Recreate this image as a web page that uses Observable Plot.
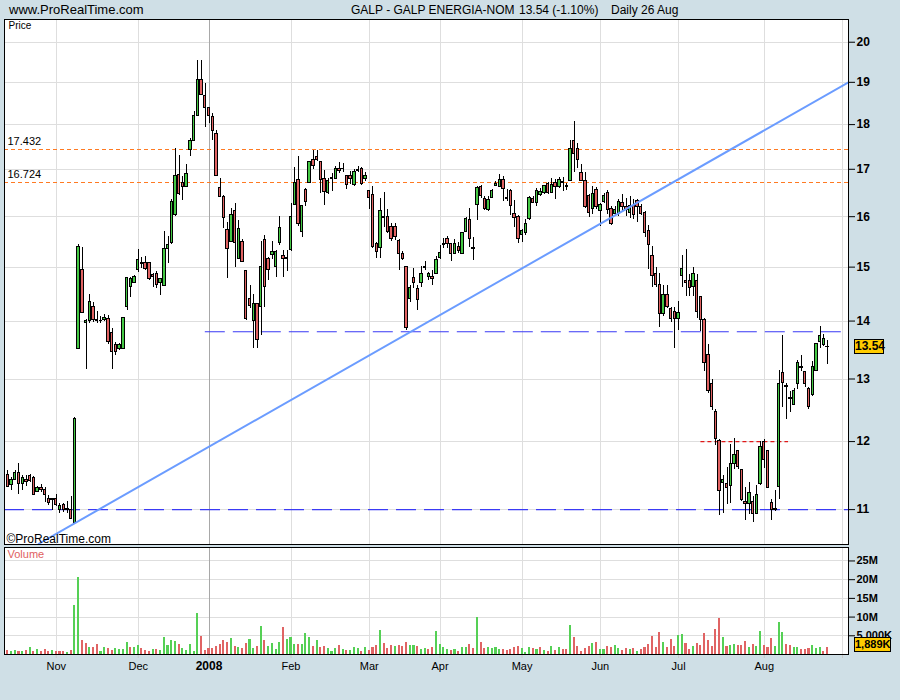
<!DOCTYPE html>
<html><head><meta charset="utf-8">
<script src="https://cdn.jsdelivr.net/npm/d3@7"></script>
<script src="https://cdn.jsdelivr.net/npm/@observablehq/plot@0.6"></script>
<style>
html,body{margin:0;padding:0;background:#cfdfe6;}
#page{position:relative;width:900px;height:700px;background:#cfdfe6;overflow:hidden;font-family:"Liberation Sans",Arial,sans-serif;color:#000;}
.abs{position:absolute;white-space:nowrap;}
.hdr{font-size:12px;line-height:14px;top:3px;}
.badge{position:absolute;background:#ffcc00;border:1px solid #000;font-weight:bold;text-align:center;box-sizing:border-box;line-height:13px;}
</style></head>
<body><div id="page"></div>
<script>
// ---------- DATA ----------
const siteName = "www.ProRealTime.com";
const instrument = "GALP - GALP ENERGIA-NOM";
const lastQuote = "13.54 (-1.10%)";
const periodText = "Daily  26 Aug";
const firstDay = "2007-10-15";
const holidays = ["2007-12-25","2007-12-26","2008-01-01","2008-03-21","2008-03-24","2008-05-01"];
const monthLabels = ["Nov","Dec","2008","Feb","Mar","Apr","May","Jun","Jul","Aug",""];
const priceTicks = [11,12,13,14,15,16,17,18,19,20];
const volTicks = [5e6,10e6,15e6,20e6,25e6];
const volTickLabels = ["5,000K","10M","15M","20M","25M"];
const fibLevels = [17.432, 16.724];
const dashedLevels = [{p:11, i1:-0.885, i2:225.6},{p:13.81, i1:53, i2:224}];
const dottedLevels = [{p:12, i1:186, i2:209.5}];
const trendLine = [{i:8.3, p:10.53},{i:225.6, p:19.0}];

const open = [
11.50,11.35,11.43,11.53,11.36,11.42,11.48,11.46,11.25,11.31,
11.28,11.15,11.15,11.15,11.00,11.07,11.01,11.00,10.82,13.51,
14.95,13.97,14.00,14.26,14.02,14.00,14.02,14.04,13.79,13.58,
13.51,13.51,14.25,14.63,14.70,14.95,15.06,15.07,15.07,14.85,
14.87,14.70,14.65,15.36,15.47,16.03,16.88,16.71,16.62,17.42,
17.63,18.20,19.05,18.66,18.38,18.17,17.79,16.60,16.40,15.72,
15.50,16.12,15.16,15.49,14.93,14.40,14.01,14.31,14.26,15.52,
15.16,15.24,15.01,15.47,15.21,15.15,15.34,16.25,16.76,15.69,
16.56,16.71,17.21,17.28,17.15,16.80,16.50,16.82,16.80,17.01,
17.00,16.86,16.86,16.66,16.97,17.00,16.80,16.53,16.44,15.45,
15.38,16.00,15.99,15.80,15.80,15.51,15.26,15.01,14.40,14.79,
14.59,14.69,14.98,14.81,14.82,14.87,15.17,15.45,15.54,15.45,
15.25,15.40,15.25,15.69,15.94,15.38,16.25,16.62,16.36,16.14,
16.39,16.64,16.62,16.76,16.38,16.53,16.06,16.00,15.62,15.66,
15.95,16.36,16.28,16.46,16.50,16.69,16.50,16.71,16.61,16.70,
16.64,16.75,17.62,17.45,16.93,16.75,16.43,16.16,16.56,16.12,
16.31,16.49,16.16,16.06,16.06,16.29,16.20,16.07,16.21,16.32,
16.19,16.08,15.70,15.21,14.86,14.66,14.13,14.48,14.21,14.17,
14.04,14.83,14.73,14.74,14.62,14.73,14.43,14.02,13.41,12.92,
12.47,12.01,11.38,11.36,11.34,11.66,11.86,11.57,11.11,11.08,
11.11,10.94,11.36,12.00,11.85,11.10,11.01,11.32,13.10,12.89,
12.68,12.58,12.91,13.20,13.11,12.84,12.74,13.14,13.63,13.58,
13.55];
const high = [
11.57,11.46,11.56,11.67,11.49,11.49,11.50,11.47,11.33,11.36,
11.32,11.20,11.15,11.21,11.08,11.08,11.11,11.18,12.37,15.44,
15.39,14.03,14.48,14.34,14.17,14.08,14.12,14.10,13.86,13.63,
13.61,14.07,14.81,14.81,14.84,15.34,15.19,15.20,15.08,14.88,
14.92,14.79,15.69,15.59,16.35,17.45,17.30,16.85,17.11,17.68,
18.31,19.53,19.53,18.97,18.39,18.26,17.87,16.80,16.43,15.89,
16.16,16.28,15.92,15.53,14.94,14.65,14.49,14.31,15.50,15.62,
15.19,15.50,15.32,16.01,15.32,15.32,16.28,17.03,17.27,16.23,
16.58,17.17,17.42,17.42,17.17,16.98,16.80,16.91,17.05,17.14,
17.12,16.87,16.96,17.00,17.05,17.04,16.92,16.55,16.62,15.48,
16.37,16.50,16.14,15.86,15.86,15.54,15.30,15.02,14.66,14.97,
14.66,15.01,15.10,14.90,14.94,15.20,15.43,15.56,15.59,15.46,
15.54,15.48,15.68,15.98,16.16,15.58,16.63,16.66,16.41,16.42,
16.56,16.74,16.89,16.84,16.56,16.56,16.34,16.03,15.74,15.95,
16.42,16.42,16.58,16.58,16.66,16.71,16.80,16.79,16.82,16.82,
16.70,17.63,18.08,17.56,17.10,16.93,16.46,16.62,16.60,16.27,
16.48,16.54,16.21,16.21,16.35,16.45,16.38,16.42,16.35,16.35,
16.25,16.10,15.83,15.40,15.00,14.88,14.65,14.65,14.25,14.24,
14.35,15.23,15.35,14.85,15.00,14.85,14.45,14.04,13.59,13.00,
12.51,12.03,11.49,11.61,11.95,12.05,11.87,11.58,11.32,11.39,
11.18,11.34,12.00,12.03,11.87,11.14,11.27,13.14,13.74,12.92,
12.80,12.84,13.32,13.40,13.13,12.86,13.29,13.61,13.91,13.76,
13.66];
const low = [
11.31,11.27,11.42,11.22,11.27,11.33,11.39,11.21,11.24,11.25,
11.10,11.06,10.99,11.04,10.94,10.96,10.94,10.87,10.81,13.51,
14.14,13.16,13.95,13.97,13.96,13.96,14.00,13.59,13.16,13.40,
13.49,13.51,14.19,14.43,14.68,14.90,14.97,14.93,14.75,14.62,
14.59,14.47,14.63,15.07,15.45,16.00,16.44,16.34,16.62,17.28,
17.61,18.20,18.70,17.93,18.03,17.64,16.84,16.40,15.75,14.78,
15.50,15.00,15.14,15.08,14.01,14.22,13.51,13.51,13.74,14.25,
14.74,15.14,14.81,15.42,14.81,14.91,15.31,16.23,15.81,15.58,
16.20,16.69,17.00,17.16,16.48,16.23,16.47,16.53,16.78,16.90,
16.92,16.57,16.67,16.63,16.93,16.65,16.74,16.14,15.36,15.16,
15.16,15.78,15.66,15.50,15.52,14.94,15.12,13.83,14.33,14.59,
14.19,14.62,14.93,14.74,14.66,14.85,15.14,15.36,15.36,15.10,
15.24,15.27,15.24,15.68,15.39,15.12,15.92,16.37,16.13,16.11,
16.37,16.62,16.60,16.32,16.32,16.03,15.79,15.47,15.49,15.62,
15.93,16.27,16.20,16.42,16.46,16.47,16.48,16.35,16.59,16.53,
16.55,16.75,16.92,17.01,16.73,16.16,15.98,16.04,16.15,15.80,
16.27,16.04,15.82,16.00,16.00,16.11,16.00,15.97,15.94,15.89,
16.03,15.58,14.95,14.61,14.61,13.89,14.08,14.22,13.97,13.51,
13.83,14.62,14.45,14.45,14.45,14.04,13.82,13.13,12.76,12.49,
11.94,10.92,10.95,11.07,11.08,11.58,11.58,11.12,10.85,10.93,
10.82,10.93,11.34,11.60,11.31,10.85,10.98,11.15,12.53,12.34,
12.46,12.56,12.82,13.13,12.86,12.51,12.72,13.13,13.52,13.56,
13.24];
const close = [
11.33,11.43,11.53,11.36,11.46,11.39,11.41,11.21,11.31,11.28,
11.21,11.10,11.14,11.06,11.05,10.99,11.00,10.87,12.35,15.40,
14.14,14.01,14.34,14.02,14.00,14.01,14.05,13.63,13.45,13.45,
13.58,14.05,14.80,14.78,14.82,15.13,15.08,14.96,14.78,14.82,
14.66,14.77,15.36,15.44,16.30,16.86,16.48,16.62,16.89,17.62,
18.19,19.05,18.70,18.39,18.20,17.86,16.86,16.41,15.98,15.36,
16.03,15.47,15.75,15.10,14.04,14.27,14.31,13.66,15.00,14.62,
14.94,15.30,15.30,15.76,15.16,15.17,16.00,16.71,15.85,16.21,
16.30,17.15,17.07,17.21,16.76,16.51,16.75,16.78,17.01,16.96,
17.01,16.67,16.79,16.94,16.98,16.69,16.86,16.38,15.39,15.30,
16.12,15.98,15.69,15.55,15.58,15.26,15.16,13.87,14.61,14.69,
14.39,14.87,15.01,14.87,14.77,15.13,15.27,15.44,15.45,15.25,
15.46,15.31,15.66,15.96,15.54,15.36,16.60,16.43,16.16,16.34,
16.53,16.68,16.76,16.58,16.36,16.21,15.98,15.54,15.70,15.86,
16.39,16.28,16.53,16.51,16.64,16.49,16.67,16.61,16.76,16.72,
16.61,17.44,17.34,17.21,16.75,16.20,16.07,16.48,16.20,16.25,
16.43,16.14,15.85,16.14,16.30,16.19,16.14,16.23,16.03,16.20,
16.06,15.66,15.43,14.83,14.66,14.13,14.48,14.26,14.04,14.03,
14.15,14.97,14.69,14.61,14.86,14.17,14.02,13.27,12.80,12.55,
12.04,11.26,11.42,11.31,11.66,11.79,11.62,11.14,11.08,11.24,
10.94,11.21,11.92,11.72,11.31,10.99,11.00,12.91,12.94,12.87,
12.69,12.80,13.27,13.19,12.91,12.55,13.20,13.60,13.73,13.69,
13.54];
// volume in millions of shares
const volume = [
1.07,0.89,1.07,0.80,0.80,1.07,1.87,0.80,1.34,0.80,
1.34,0.80,1.07,0.80,0.80,0.80,0.53,1.07,13.1,20.6,
3.74,2.94,1.87,1.87,2.67,0.80,1.87,1.60,1.07,1.60,
1.25,1.34,3.21,1.87,1.87,2.41,1.60,1.07,0.80,1.34,
1.34,1.07,4.54,2.41,3.74,3.47,2.67,1.60,1.07,2.67,
0.80,10.96,4.81,1.07,1.60,1.60,2.14,2.67,3.74,3.21,
4.28,2.14,1.87,1.60,2.94,4.01,1.60,2.14,7.48,3.74,
2.14,2.94,1.34,3.21,7.22,4.01,4.54,2.67,2.67,2.67,
5.61,4.54,2.14,3.74,1.87,2.14,1.60,0.80,1.60,2.41,
1.34,1.07,1.07,1.87,1.60,0.80,1.87,1.07,1.87,2.41,
6.42,2.94,1.60,2.41,2.14,2.41,2.14,3.21,2.41,2.41,
2.14,1.34,1.60,1.34,1.87,6.15,2.67,1.87,1.34,
1.07,1.34,0.80,1.87,1.87,2.67,1.60,9.89,3.21,1.60,
1.87,1.60,1.87,1.34,1.34,1.07,1.34,1.87,2.14,1.60,
0.53,1.87,1.60,1.34,1.87,1.07,0.80,2.14,1.07,1.87,
1.34,1.34,7.75,4.54,2.14,0.80,1.60,2.14,2.94,3.21,
1.34,1.34,2.14,1.87,2.41,1.60,1.07,1.60,1.34,1.60,
0.80,1.34,1.87,2.67,4.81,1.87,5.88,3.21,1.87,4.01,
2.14,5.08,5.35,2.94,1.34,2.14,2.94,2.41,5.61,3.74,
2.14,6.68,9.62,4.54,2.14,2.41,2.67,2.41,2.41,3.47,
1.87,2.67,2.14,6.15,2.41,1.87,4.28,2.14,8.55,5.88,
2.67,2.41,1.87,1.87,1.34,1.34,1.60,2.41,1.60,1.87,
0.80,1.889];

// ---------- BUILD ----------
const FONT = '"Liberation Sans", Arial, sans-serif';
const GREEN = "#44c844", RED = "#e06262", VGREEN = "#55d055", VRED = "#e06464";
const fmt = d3.utcFormat("%Y-%m-%d");
const days = d3.utcDays(new Date(firstDay), new Date("2008-09-06"))
  .filter(d => d.getUTCDay() !== 0 && d.getUTCDay() !== 6 && !holidays.includes(fmt(d)));
const monthTicks = [];
days.forEach((d, i) => { if (i > 0 && d.getUTCMonth() !== days[i-1].getUTCMonth()) monthTicks.push({i, date: d}); });
monthTicks.forEach((t, k) => t.label = monthLabels[k] ?? "");

const rows = open.map((o, i) => ({
  i, date: days[i], o, h: high[i], l: low[i], c: close[i], v: volume[i] * 1e6,
  volUp: i > 0 && close[i] >= close[i-1]
}));
const xDomain = [-0.885, 225.6];

const page = document.getElementById("page");
function addText(txt, css, cls) {
  const d = document.createElement("div");
  d.className = "abs " + (cls || "");
  d.textContent = txt;
  Object.assign(d.style, css);
  page.appendChild(d);
  return d;
}
addText(siteName, {left: "9px", fontSize: "13px"}, "hdr");
addText(instrument, {left: "351px"}, "hdr");
addText(lastQuote, {left: "519px"}, "hdr");
addText(periodText, {left: "611px"}, "hdr");

const price = Plot.plot({
  width: 900, height: 527, marginTop: 1, marginBottom: 1, marginLeft: 4, marginRight: 52,
  x: {type: "linear", domain: xDomain, axis: null},
  y: {type: "log", domain: [10.52, 20.59], axis: null},
  color: {type: "identity"},
  style: {background: "transparent", fontFamily: FONT, fontSize: "12px", color: "#000", overflow: "visible"},
  marks: [
    Plot.frame({fill: "#fff", stroke: null}),
    Plot.ruleY(priceTicks, {y: d => d, stroke: "#dedede", shapeRendering: "crispEdges"}),
    Plot.ruleX(monthTicks.filter(t => t.label !== "2008"), {x: "i", stroke: "#dedede", shapeRendering: "crispEdges"}),
    Plot.ruleX(monthTicks.filter(t => t.label === "2008"), {x: "i", stroke: "#a8a8a8", shapeRendering: "crispEdges"}),
    Plot.ruleY(fibLevels, {y: d => d, stroke: "#ff7a22", strokeDasharray: "4,3", shapeRendering: "crispEdges"}),
    Plot.text(fibLevels, {y: d => d, frameAnchor: "left", text: d => d.toFixed(3), textAnchor: "start", lineAnchor: "middle", dx: 3, dy: -8, fontSize: 11, fill: "#000"}),
    Plot.ruleY(dashedLevels, {y: "p", x1: "i1", x2: "i2", stroke: "#3a3af5", strokeWidth: 1.2, strokeDasharray: "20,8"}),
    Plot.ruleY(dottedLevels, {y: "p", x1: "i1", x2: "i2", stroke: "#e01818", strokeWidth: 1.2, strokeDasharray: "4,3"}),
    Plot.ruleX(rows, {x: "i", y1: "l", y2: "h", stroke: "#000", shapeRendering: "crispEdges"}),
    Plot.rect(rows, {x1: d => d.i - 0.32, x2: d => d.i + 0.32, y1: d => Math.min(d.o, d.c), y2: d => Math.max(d.o, d.c),
      fill: d => d.c >= d.o ? GREEN : RED, stroke: "#000", strokeWidth: 1, shapeRendering: "crispEdges"}),
    Plot.line(trendLine, {x: "i", y: "p", stroke: "#6b9cff", strokeWidth: 2, clip: true}),
    Plot.axisY(priceTicks, {anchor: "right", tickSize: 6, tickPadding: 2, fontSize: 12, fontWeight: "bold", label: null, tickFormat: d => String(d)}),
    Plot.text(["Price"], {frameAnchor: "top-left", text: d => d, textAnchor: "start", lineAnchor: "top", dx: 4, dy: 2, fontSize: 10, fill: "#000"}),
    Plot.text(["\u00A9ProRealTime.com"], {frameAnchor: "bottom-left", text: d => d, textAnchor: "start", lineAnchor: "bottom", dx: 2, dy: -2, fontSize: 12, fill: "#000"}),
    Plot.frame({stroke: "#000", shapeRendering: "crispEdges"})
  ]
});
const pw = document.createElement("div");
pw.className = "abs"; pw.style.left = "0px"; pw.style.top = "18px";
pw.appendChild(price); page.appendChild(pw);

const vol = Plot.plot({
  width: 900, height: 154, marginTop: 1, marginBottom: 46, marginLeft: 4, marginRight: 52,
  x: {type: "linear", domain: xDomain, axis: null},
  y: {domain: [0, 28.6e6], axis: null},
  color: {type: "identity"},
  style: {background: "transparent", fontFamily: FONT, fontSize: "11px", color: "#000", overflow: "visible"},
  marks: [
    Plot.frame({fill: "#fff", stroke: null}),
    Plot.ruleY(volTicks, {y: d => d, stroke: "#dedede", shapeRendering: "crispEdges"}),
    Plot.ruleX(monthTicks.filter(t => t.label !== "2008"), {x: "i", stroke: "#dedede", shapeRendering: "crispEdges"}),
    Plot.ruleX(monthTicks.filter(t => t.label === "2008"), {x: "i", stroke: "#a8a8a8", shapeRendering: "crispEdges"}),
    Plot.axisX(monthTicks.map(t => t.i), {anchor: "bottom", tickSize: 4, tickFormat: () => "", stroke: "#c8c8c8", label: null}),
    Plot.rect(rows, {x1: d => d.i - 0.28, x2: d => d.i + 0.28, y1: 0, y2: "v", fill: d => d.volUp ? VGREEN : VRED, shapeRendering: "crispEdges"}),
    Plot.axisY(volTicks, {anchor: "right", tickSize: 6, tickPadding: 2, fontSize: 11, fontWeight: "bold", label: null,
      tickFormat: d => volTickLabels[volTicks.indexOf(d)]}),
    Plot.text(["Volume"], {frameAnchor: "top-left", text: d => d, textAnchor: "start", lineAnchor: "top", dx: 3, dy: 3, fontSize: 11, fill: "#e06060"}),
    Plot.text(monthTicks.filter(t => t.label !== "2008"), {x: "i", text: "label", frameAnchor: "bottom", lineAnchor: "middle", dy: 12, fontSize: 11, fill: "#000"}),
    Plot.text(monthTicks.filter(t => t.label === "2008"), {x: "i", text: "label", frameAnchor: "bottom", lineAnchor: "middle", dy: 12, fontSize: 12, fontWeight: "bold", fill: "#000"}),
    Plot.frame({stroke: "#000", shapeRendering: "crispEdges"})
  ]
});
const vw = document.createElement("div");
vw.className = "abs"; vw.style.left = "0px"; vw.style.top = "546px";
vw.appendChild(vol); page.appendChild(vw);

// value badges positioned through the charts' own scales
const lastC = close[close.length - 1];
const py = 18 + price.scale("y").apply(lastC);
const b1 = document.createElement("div");
b1.className = "badge"; b1.textContent = lastC.toFixed(2);
Object.assign(b1.style, {left: "854px", top: (py - 7.5) + "px", width: "30px", height: "15px", fontSize: "12px"});
page.appendChild(b1);

const lastV = volume[volume.length - 1] * 1e6;
let vy = 546 + vol.scale("y").apply(lastV) - 7.5;
vy = Math.min(vy, 652 - 15);
const b2 = document.createElement("div");
b2.className = "badge"; b2.textContent = d3.format(",")(Math.round(lastV / 1000)) + "K";
Object.assign(b2.style, {left: "854px", top: vy + "px", width: "37px", height: "15px", fontSize: "11px"});
page.appendChild(b2);
</script>
</body></html>
